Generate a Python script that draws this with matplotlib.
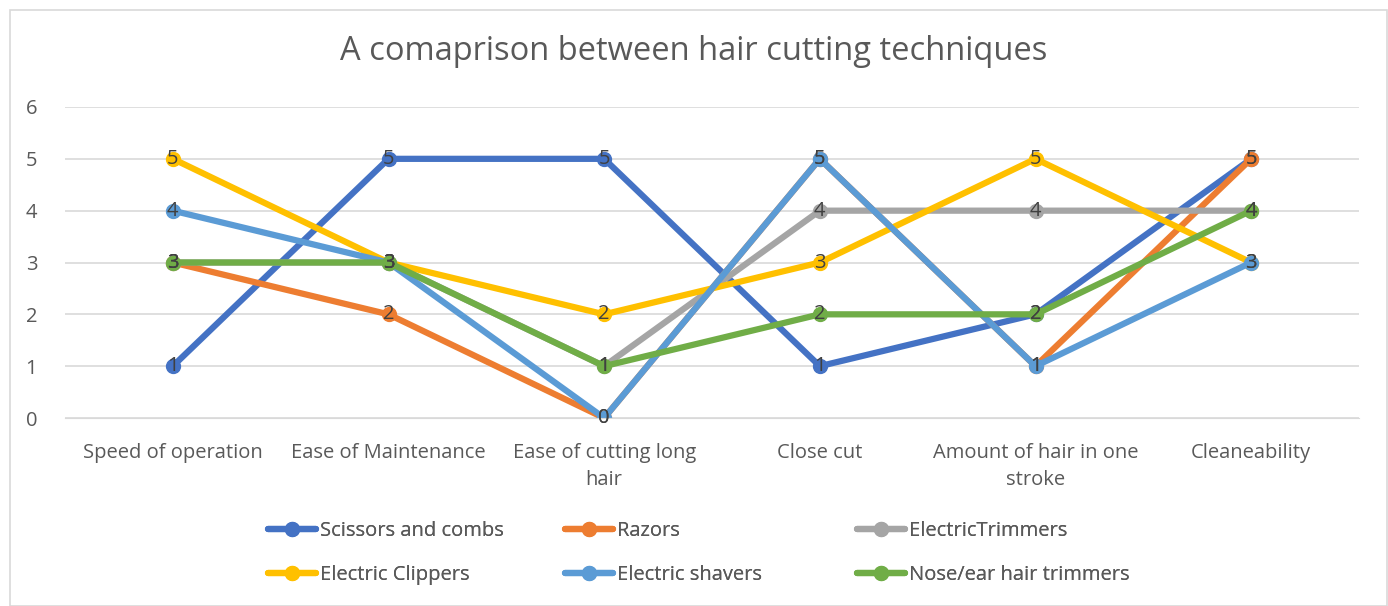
import matplotlib
matplotlib.use("Agg")
import matplotlib.pyplot as plt
from matplotlib.patches import Rectangle

# données du graphique
categories = ["Speed of operation", "Ease of Maintenance", "Ease of cutting long\nhair",
              "Close cut", "Amount of hair in one\nstroke", "Cleaneability"]
noms = ["Scissors and combs", "Razors", "ElectricTrimmers",
        "Electric Clippers", "Electric shavers", "Nose/ear hair trimmers"]
scissors = [1, 5, 5, 1, 2, 5]
razors = [3, 2, 0, 5, 1, 5]
trimmers = [3, 3, 1, 4, 4, 4]
clippers = [5, 3, 2, 3, 5, 3]
shavers = [4, 3, 0, 5, 1, 3]
nose_ear = [3, 3, 1, 2, 2, 4]
series = [scissors, razors, trimmers, clippers, shavers, nose_ear]
couleurs = ["#4472C4", "#ED7D31", "#A5A5A5", "#FFC000", "#5B9BD5", "#70AD47"]

plt.rcParams['font.family'] = ['Open Sans', 'DejaVu Sans']

W, H = 1388, 606
fig = plt.figure(figsize=(W/100, H/100), dpi=100)
ax = fig.add_axes([65/W, 1 - 418/H, (1359-65)/W, (418-107)/H])

# cadre gris clair autour du graphique
fig.patches.append(Rectangle((10/W, 0), 1377/W, 1 - 10/H, transform=fig.transFigure,
                             fill=False, edgecolor="#D9D9D9", linewidth=1.2))

x = list(range(len(categories)))
lignes = []
for vals, nom, c in zip(series, noms, couleurs):
    l, = ax.plot(x, vals, color=c, linewidth=4.5, marker="o", markersize=10, label=nom,
                 solid_capstyle="round")
    lignes.append(l)
    for xi, v in zip(x, vals):
        ax.text(xi, v, str(v), ha="center", va="center", fontsize=14.5, color="#404040")

ax.set_xlim(-0.5, len(categories) - 0.5)
ax.set_ylim(0, 6)
ax.set_yticks(range(7))
ax.set_xticks(x)
ax.set_xticklabels(categories, fontsize=14.5, color="#595959", linespacing=1.45)
ax.tick_params(axis="y", labelsize=14.5, labelcolor="#595959", length=0, pad=20)
ax.tick_params(axis="x", length=0, pad=18)
ax.grid(axis="y", color="#D9D9D9", linewidth=1.2)
ax.set_axisbelow(True)
for s in ax.spines.values():
    s.set_visible(False)
ax.spines["bottom"].set_visible(True)
ax.spines["bottom"].set_color("#D9D9D9")

fig.text(0.5, 1 - 52/H, "A comaprison between hair cutting techniques",
         ha="center", va="center", fontsize=23.5, color="#595959")

# légende : trois colonnes, remplies ligne par ligne
x_cols = [268, 565, 857]
for j, xc in enumerate(x_cols):
    leg = fig.legend(handles=[lignes[j], lignes[j + 3]], loc="center left",
                     bbox_to_anchor=(xc/W, 1 - 553/H), frameon=False, fontsize=14.5,
                     labelcolor="#595959", handlelength=2.4, handletextpad=0.2,
                     labelspacing=1.2, borderaxespad=0, borderpad=0)
    fig.add_artist(leg)

plt.savefig("out.png", dpi=100)
